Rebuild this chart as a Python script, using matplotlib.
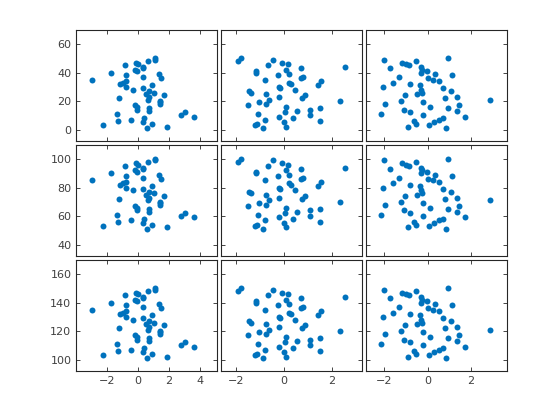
import matplotlib
matplotlib.use('Agg')
import matplotlib.pyplot as plt

# columns of X (one per panel column), ordered by y
x1 = [0.56, 1.85, -2.28, 0.90, 0.32, -1.31, -0.43, 0.37, 3.61, 2.80,
      -1.35, 3.05, 0.73, -0.06, 0.73, -0.09, -0.17, 1.44, 1.42, 1.40,
      0.67, -1.20, 0.71, 1.66, 0.49, 1.05, 0.73, -0.30, 0.30, -0.77,
      0.90, -1.14, -0.97, -0.80, -2.97, 1.46, 0.32, -0.75, 1.38, -1.74,
      -0.09, -0.22, 0.32, 0.32, -0.86, -0.02, -0.15, 0.65, 1.12, 1.12]
x2 = [-0.86, 0.07, -1.21, -1.11, -0.01, 1.52, -0.78, 0.36, -0.22, 1.11,
      -1.10, 0.03, 0.54, 1.09, 1.53, 0.07, -1.49, -0.75, -1.06, 2.33,
      -0.61, 0.77, -0.20, 0.88, -0.77, -1.39, -1.44, 0.47, -0.18, -0.21,
      1.41, 0.31, 0.21, 1.57, -0.81, 0.70, 0.81, -0.25, 0.21, -1.17,
      -1.16, 0.10, 0.71, 2.56, -0.68, 0.18, -0.10, -1.94, -0.45, -1.80]
x3 = [0.85, -0.89, 0.08, -0.55, 0.29, -0.62, 0.51, 0.72, 1.71, -0.20,
      -2.15, -0.83, 1.35, -1.08, 0.95, 0.11, 1.43, -1.97, -0.22, -1.22,
      2.89, 0.82, 1.37, -1.06, -0.48, -0.26, 1.08, -0.29, 0.69, -2.06,
      -0.37, -0.83, -1.58, 0.51, 0.26, 0.03, -1.32, 1.11, 0.34, -0.31,
      -0.02, -0.28, -1.75, -0.29, -0.85, -1.02, -1.17, -0.54, -2.02, 0.95]

# columns of Y (one per panel row)
y1 = [1, 2, 3, 4, 5, 6, 7, 8, 9, 10, 11, 12, 13, 14, 15, 16, 17, 18, 19, 20,
      21, 22, 23, 24, 25, 26, 27, 28, 29, 30, 31, 32, 33, 34, 35, 36, 37, 38, 39, 40,
      41, 42, 43, 44, 45, 46, 47, 48, 49, 50]
y2 = [51, 52, 53, 54, 55, 56, 57, 58, 59, 60, 61, 62, 63, 64, 65, 66, 67, 68, 69, 70,
      71, 72, 73, 74, 75, 76, 77, 78, 79, 80, 81, 82, 83, 84, 85, 86, 87, 88, 89, 90,
      91, 92, 93, 94, 95, 96, 97, 98, 99, 100]
y3 = [101, 102, 103, 104, 105, 106, 107, 108, 109, 110, 111, 112, 113, 114, 115,
      116, 117, 118, 119, 120, 121, 122, 123, 124, 125, 126, 127, 128, 129, 130,
      131, 132, 133, 134, 135, 136, 137, 138, 139, 140, 141, 142, 143, 144, 145,
      146, 147, 148, 149, 150]

X = [x1, x2, x3]
Y = [y1, y2, y3]

xlims = [(-3.98, 5.12), (-2.62, 3.28), (-2.83, 3.67)]
xticks = [[-2, 0, 2, 4], [-2, 0, 2], [-2, 0, 2]]
ylims = [(-8.2, 69.6), (31.8, 109.6), (91.8, 169.6)]
yticks = [[0, 20, 40, 60], [40, 60, 80, 100], [100, 120, 140, 160]]

fig = plt.figure(figsize=(5.6, 4.2), dpi=100)

left, bottom = 76.3 / 560, (420 - 371.3) / 420
w, h = 141 / 560, 111 / 420
gx, gy = 4 / 560, 4 / 420
dark = '#262626'

for i in range(3):          # rows, top to bottom
    for j in range(3):      # columns
        ax = fig.add_axes([left + j * (w + gx), bottom + (2 - i) * (h + gy), w, h])
        ax.plot(X[j], Y[i], 'o', color='#0072BD', markersize=4.3,
                markeredgewidth=0)
        ax.set_xlim(xlims[j])
        ax.set_ylim(ylims[i])
        ax.set_xticks(xticks[j])
        ax.set_yticks(yticks[i])
        ax.tick_params(direction='in', length=2.8, width=0.6, colors=dark,
                       labelsize=8, top=True, right=True, labelcolor='#404040')
        if i != 2:
            ax.set_xticklabels([])
        if j != 0:
            ax.set_yticklabels([])
        for s in ax.spines.values():
            s.set_linewidth(0.8)
            s.set_color(dark)

fig.savefig('out.png', dpi=100)
